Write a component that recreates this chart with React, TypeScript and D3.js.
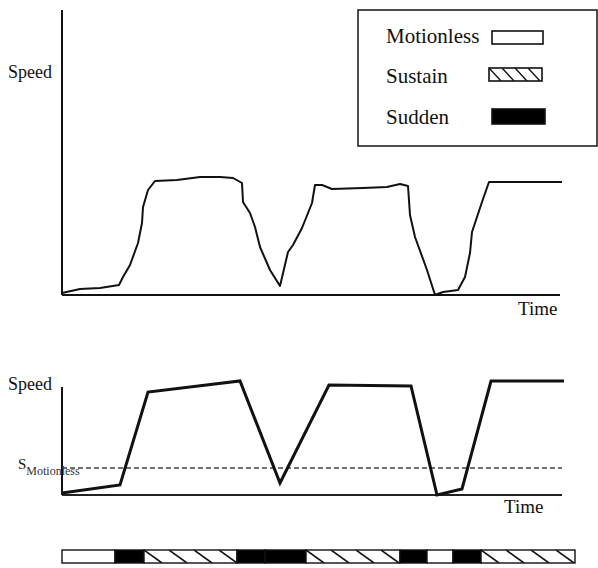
import React from "react";
import * as d3 from "d3";

// time units (0..500) and speed units
const rawTime = [0, 18, 38, 57, 61, 68, 76, 80, 81, 86, 93, 115, 138, 158, 171, 180, 181, 188, 193, 198, 208, 218, 226, 231, 240, 250, 253, 260, 270, 301, 325, 338, 346, 348, 353, 365, 373, 381, 396, 403, 408, 410, 415, 420, 427, 500];
const rawSpeed = [2, 6, 7, 10, 18, 30, 52, 72, 88, 105, 114, 115, 118, 118, 117, 112, 93, 82, 68, 48, 25, 9, 43, 50, 67, 92, 110, 110, 106, 107, 108, 111, 109, 80, 58, 25, 0, 3, 5, 18, 42, 63, 78, 93, 113, 113];

const modelTime = [0, 58, 86, 178, 218, 267, 349, 375, 400, 429, 502];
const modelSpeed = [2, 10, 103, 114, 12, 110, 109, 0, 6, 114, 114];
const motionlessThreshold = 27;

const stateStart = [0, 53, 82, 175, 203, 244, 338, 365, 391, 419];
const stateEnd = [53, 82, 175, 203, 244, 338, 365, 391, 419, 513];
const stateKind = ["Motionless", "Sudden", "Sustain", "Sudden", "Sudden", "Sustain", "Sudden", "Motionless", "Sudden", "Sustain"];

const legendLabels = ["Motionless", "Sustain", "Sudden"];

const FONT = "'Liberation Serif', 'Times New Roman', serif";
const INK = "#111";

export default function App() {
  const x = d3.scaleLinear().domain([0, 500]).range([62, 562]);
  const yTop = d3.scaleLinear().domain([0, 285]).range([295, 10]);
  const yBot = d3.scaleLinear().domain([0, 108]).range([495, 387]);

  const rawPts: [number, number][] = rawTime.map((t, i) => [t, rawSpeed[i]]);
  const modelPts: [number, number][] = modelTime.map((t, i) => [t, modelSpeed[i]]);

  const lineTop = d3.line<[number, number]>().x(d => x(d[0])).y(d => yTop(d[1])).curve(d3.curveLinear);
  const lineBot = d3.line<[number, number]>().x(d => x(d[0])).y(d => yBot(d[1])).curve(d3.curveLinear);

  const barY = 550;
  const barH = 13;

  const fillFor = (kind: string, i: number) =>
    kind === "Sudden" ? "#000" : kind === "Sustain" ? `url(#hatch${i})` : "#fff";

  // legend layout
  const legendRows = [
    { label: legendLabels[0], tx: 386, ty: 43, rx: 492, ry: 31, rw: 51, rh: 13 },
    { label: legendLabels[1], tx: 386, ty: 83, rx: 489, ry: 68, rw: 53, rh: 13 },
    { label: legendLabels[2], tx: 386, ty: 124, rx: 492, ry: 109, rw: 53, rh: 15 },
  ];

  return (
    <svg width={598} height={568} style={{ position: "absolute", left: 0, top: 0, background: "#fff" }} fontFamily={FONT}>
      <defs>
        {stateKind.map((k, i) =>
          k === "Sustain" ? (
            <pattern key={i} id={`hatch${i}`} patternUnits="userSpaceOnUse" x={x(stateStart[i])} y={barY} width={25} height={barH}>
              <rect width={25} height={barH} fill="#fff" />
              <line x1={0} y1={0} x2={18} y2={barH} stroke={INK} strokeWidth={1.6} />
            </pattern>
          ) : null
        )}
        <pattern id="legHatch" patternUnits="userSpaceOnUse" x={489} y={68} width={13} height={13}>
          <rect width={13} height={13} fill="#fff" />
          <line x1={0} y1={0} x2={12} y2={13} stroke={INK} strokeWidth={1.4} />
        </pattern>
      </defs>

      {/* top chart */}
      <line x1={x(0)} x2={x(0)} y1={yTop(285)} y2={yTop(0)} stroke={INK} strokeWidth={2} />
      <line x1={x(0)} x2={x(498)} y1={yTop(0)} y2={yTop(0)} stroke={INK} strokeWidth={2.2} />
      <path d={lineTop(rawPts) ?? ""} fill="none" stroke={INK} strokeWidth={2} strokeLinejoin="round" />
      <text x={8} y={78} fontSize={18} fill={INK}>Speed</text>
      <text x={518} y={315} fontSize={19} fill={INK}>Time</text>

      {/* legend */}
      <rect x={358} y={10} width={239} height={136} fill="#fff" stroke="#222" strokeWidth={1.6} />
      {legendRows.map((r, i) => (
        <g key={r.label}>
          <text x={r.tx} y={r.ty} fontSize={21} fill={INK}>{r.label}</text>
          <rect x={r.rx} y={r.ry} width={r.rw} height={r.rh}
            fill={i === 0 ? "#fff" : i === 1 ? "url(#legHatch)" : "#000"}
            stroke={INK} strokeWidth={1.6} />
        </g>
      ))}

      {/* bottom chart */}
      <line x1={x(0)} x2={x(0)} y1={yBot(108)} y2={yBot(0)} stroke={INK} strokeWidth={2} />
      <line x1={x(0)} x2={x(500)} y1={yBot(0)} y2={yBot(0)} stroke="#222" strokeWidth={2} />
      <line x1={x(0)} x2={x(500)} y1={yBot(motionlessThreshold)} y2={yBot(motionlessThreshold)} stroke="#444" strokeWidth={1.3} strokeDasharray="5,3" />
      <path d={lineBot(modelPts) ?? ""} fill="none" stroke={INK} strokeWidth={3} strokeLinejoin="miter" />
      <text x={8} y={390} fontSize={18} fill={INK}>Speed</text>
      <text x={504} y={513} fontSize={19} fill={INK}>Time</text>
      <text x={18} y={469} fontSize={15} fill={INK}>
        S<tspan fontSize={12} dy={6} fill="#333">Motionless</tspan>
      </text>

      {/* state bar */}
      {stateKind.map((k, i) => (
        <rect key={i} x={x(stateStart[i])} y={barY} width={x(stateEnd[i]) - x(stateStart[i])} height={barH}
          fill={fillFor(k, i)} stroke={INK} strokeWidth={1.4} />
      ))}
    </svg>
  );
}
